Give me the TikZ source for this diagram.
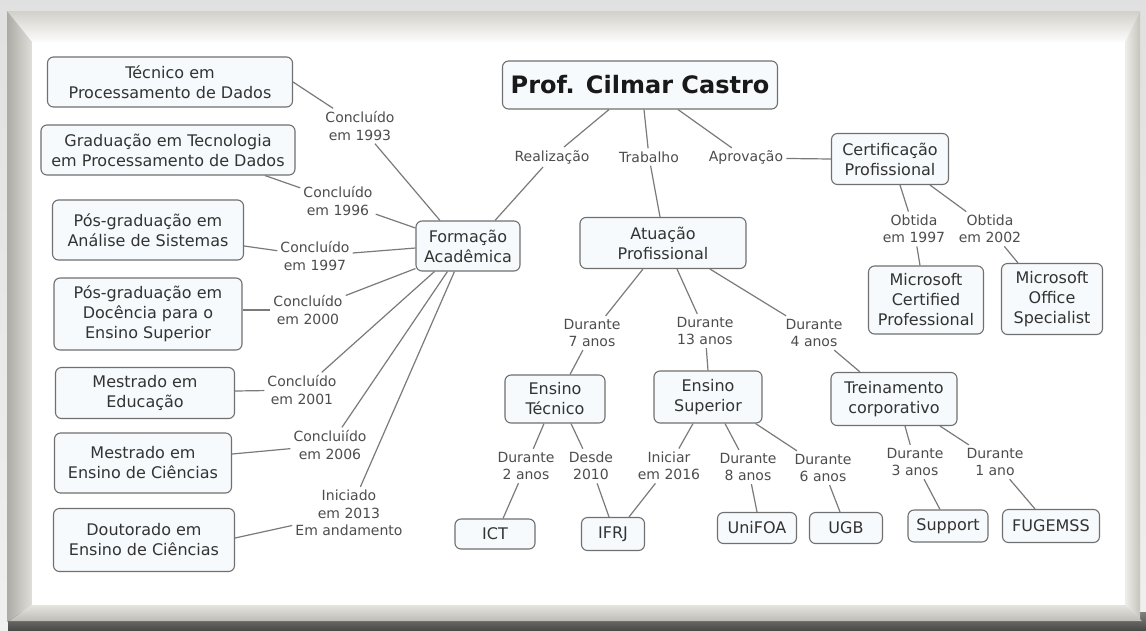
\documentclass[tikz,border=0pt]{standalone}
\usepackage{fontspec}
\setmainfont{DejaVu Sans}
\usetikzlibrary{calc}
\definecolor{nodefill}{HTML}{F6FAFC}
\definecolor{nodeline}{HTML}{707070}
\definecolor{linkc}{HTML}{7A7A7A}
\definecolor{txt}{HTML}{333333}
\definecolor{lbl}{HTML}{4D4D4D}
\definecolor{bgout}{HTML}{ECECEC}
\definecolor{frtop}{HTML}{E9E7E0}
\definecolor{frleft}{HTML}{CBC9C1}
\definecolor{frright}{HTML}{C6C4BC}
\definecolor{frbot}{HTML}{D3D1C9}
\definecolor{frdark}{HTML}{4A4A48}
\begin{document}
\begin{tikzpicture}[x=1pt,y=-1pt,
  concept/.style={draw=nodeline, fill=nodefill, rounded corners=6pt, line width=1.1pt,
    align=center, inner sep=0pt, text=txt, font=\fontsize{16}{20}\selectfont},
  lab/.style={align=center, inner sep=3pt, text=lbl, font=\fontsize{14}{17.5}\selectfont},
  link/.style={draw=linkc, line width=1.2pt}]
\useasboundingbox (0,0) rectangle (1146,630);
% ---------- frame ----------
\shade[top color=black!12, bottom color=black!6] (0,0) rectangle (1146,630);
\shade[top color=frdark!70, bottom color=frdark] (8,612) -- (1146,612) -- (1146,630) -- (8,630) -- cycle;
\shade[left color=white!70!frright, right color=frright] (1125,42) -- (1140,11) -- (1140,621) -- (1125,605) -- cycle;
\shade[top color=frtop!90!black, bottom color=white!90!frtop] (7,11) -- (1140,11) -- (1125,42) -- (32,42) -- cycle;
\shade[left color=frleft!85!black, right color=frleft!60!white] (7,11) -- (32,42) -- (32,605) -- (7,622) -- cycle;
\shade[top color=frbot!60!white, bottom color=frbot!90!black] (32,605) -- (1125,605) -- (1142,621) -- (9,621) -- cycle;
\fill[white] (32,42) rectangle (1125,605);
% ---------- concepts ----------
\node[concept, font=\fontsize{24}{28}\selectfont\bfseries, text=black!90, minimum width=275pt, minimum height=48pt] (title) at (640,85) {Prof. Cilmar Castro};
\node[concept, minimum width=104pt, minimum height=50pt] (fa) at (468,246) {Formação\\Acadêmica};
\node[concept, minimum width=166pt, minimum height=51pt] (ap) at (663,243) {Atuação\\Profissional};
\node[concept, minimum width=117pt, minimum height=51pt] (cp) at (890,159) {Certificação\\Profissional};
\node[concept, minimum width=245pt, minimum height=50pt] (n1) at (170,82) {Técnico em\\Processamento de Dados};
\node[concept, minimum width=254pt, minimum height=50pt] (n2) at (168,150) {Graduação em Tecnologia\\em Processamento de Dados};
\node[concept, minimum width=191pt, minimum height=60pt] (n3) at (148,230) {Pós-graduação em\\Análise de Sistemas};
\node[concept, minimum width=188pt, minimum height=72pt] (n4) at (148,314) {Pós-graduação em\\Docência para o\\Ensino Superior};
\node[concept, minimum width=179pt, minimum height=51pt] (n5) at (145,393) {Mestrado em\\Educação};
\node[concept, minimum width=177pt, minimum height=60pt] (n6) at (143,463) {Mestrado em\\Ensino de Ciências};
\node[concept, minimum width=181pt, minimum height=63pt] (n7) at (144,540) {Doutorado em\\Ensino de Ciências};
\node[concept, minimum width=100pt, minimum height=48pt] (et) at (555,399) {Ensino\\Técnico};
\node[concept, minimum width=108pt, minimum height=52pt] (es) at (708,397) {Ensino\\Superior};
\node[concept, minimum width=126pt, minimum height=53pt] (tc) at (894,399) {Treinamento\\corporativo};
\node[concept, minimum width=80pt, minimum height=30pt] (ict) at (495,534) {ICT};
\node[concept, minimum width=63pt, minimum height=33pt] (ifrj) at (613,534) {IFRJ};
\node[concept, minimum width=79pt, minimum height=31pt] (unifoa) at (757,528) {UniFOA};
\node[concept, minimum width=73pt, minimum height=31pt] (ugb) at (846,528) {UGB};
\node[concept, minimum width=80pt, minimum height=32pt] (support) at (948,526) {Support};
\node[concept, minimum width=97pt, minimum height=33pt] (fug) at (1051,526) {FUGEMSS};
\node[concept, minimum width=115pt, minimum height=68pt] (mcp) at (926,300) {Microsoft\\Certified\\Professional};
\node[concept, minimum width=101pt, minimum height=71pt] (mos) at (1052,299) {Microsoft\\Office\\Specialist};
% ---------- linking phrases ----------
\node[lab] (lreal) at (552,157) {Realização};
\node[lab] (ltrab) at (649,157) {Trabalho};
\node[lab] (laprov) at (746,158) {Aprovação};
\node[lab] (l1993) at (360,126) {Concluído\\em 1993};
\node[lab] (l1996) at (338,201) {Concluído\\em 1996};
\node[lab] (l1997) at (315,256) {Concluído\\em 1997};
\node[lab] (l2000) at (308,310) {Concluído\\em 2000};
\node[lab] (l2001) at (302,390) {Concluído\\em 2001};
\node[lab] (l2006) at (330,445) {Concluiído\\em 2006};
\node[lab] (l2013) at (349,513) {Iniciado\\em 2013\\Em andamento};
\node[lab] (lob97) at (914,229) {Obtida\\em 1997};
\node[lab] (lob02) at (990,229) {Obtida\\em 2002};
\node[lab] (ld7) at (592,333) {Durante\\7 anos};
\node[lab] (ld13) at (705,331) {Durante\\13 anos};
\node[lab] (ld4) at (814,333) {Durante\\4 anos};
\node[lab] (ld2) at (526,466) {Durante\\2 anos};
\node[lab] (ldesde) at (591,466) {Desde\\2010};
\node[lab] (lini) at (669,466) {Iniciar\\em 2016};
\node[lab] (ld8) at (748,467) {Durante\\8 anos};
\node[lab] (ld6) at (823,468) {Durante\\6 anos};
\node[lab] (ld3) at (915,462) {Durante\\3 anos};
\node[lab] (ld1) at (995,462) {Durante\\1 ano};
% ---------- connectors ----------
\draw[link] ($(title.south)+(-31,0)$) -- (lreal);
\draw[link] (lreal) -- ($(fa.north)+(27,0)$);
\draw[link] ($(title.south)+(4,0)$) -- (ltrab);
\draw[link] (ltrab) -- ($(ap.north)+(-3,0)$);
\draw[link] ($(title.south)+(38,0)$) -- (laprov);
\draw[link] (laprov) -- (cp.west);
\draw[link] ($(cp.south)+(10,0)$) -- (lob97);
\draw[link] (lob97) -- ($(mcp.north)+(-6,0)$);
\draw[link] ($(cp.south)+(40,0)$) -- (lob02);
\draw[link] (lob02) -- ($(mos.north)+(-34,0)$);
\draw[link] ($(ap.south)+(-20,0)$) -- (ld7);
\draw[link] (ld7) -- ($(et.north)+(15,0)$);
\draw[link] ($(ap.south)+(14,0)$) -- (ld13);
\draw[link] (ld13) -- (es.north);
\draw[link] ($(ap.south)+(47,0)$) -- (ld4);
\draw[link] (ld4) -- ($(tc.north)+(-34,0)$);
\draw[link] ($(et.south)+(-11,0)$) -- (ld2);
\draw[link] (ld2) -- ($(ict.north)+(8,0)$);
\draw[link] ($(et.south)+(16,0)$) -- (ldesde);
\draw[link] (ldesde) -- ($(ifrj.north)+(-4,0)$);
\draw[link] ($(es.south)+(-15,0)$) -- (lini);
\draw[link] (lini) -- ($(ifrj.north)+(16,0)$);
\draw[link] ($(es.south)+(17,0)$) -- (ld8);
\draw[link] (ld8) -- (unifoa.north);
\draw[link] ($(es.south east)+(-7,0)$) -- (ld6);
\draw[link] (ld6) -- ($(ugb.north)+(-6,0)$);
\draw[link] ($(tc.south)+(11,0)$) -- (ld3);
\draw[link] (ld3) -- ($(support.north)+(-8,0)$);
\draw[link] ($(tc.south)+(46,0)$) -- (ld1);
\draw[link] (ld1) -- ($(fug.north)+(-16,0)$);
\draw[link] (n1.east) -- (l1993);
\draw[link] (l1993) -- ($(fa.north)+(-28,0)$);
\draw[link] ($(n2.south)+(97,0)$) -- (l1996);
\draw[link] (l1996) -- ($(fa.west)+(0,-18)$);
\draw[link] ($(n3.east)+(0,16)$) -- (l1997);
\draw[link] (l1997) -- ($(fa.west)+(0,2)$);
\draw[link] ($(n4.east)+(0,-4)$) -- (l2000);
\draw[link] (l2000) -- ($(fa.south west)+(0,-3)$);
\draw[link] ($(n5.east)+(0,-2)$) -- (l2001);
\draw[link] (l2001) -- ($(fa.south west)+(19,0)$);
\draw[link] ($(n6.east)+(0,-9)$) -- (l2006);
\draw[link] (l2006) -- ($(fa.south west)+(32,0)$);
\draw[link] ($(n7.east)+(0,-2)$) -- (l2013);
\draw[link] (l2013) -- ($(fa.south west)+(39,0)$);
\end{tikzpicture}
\end{document}
